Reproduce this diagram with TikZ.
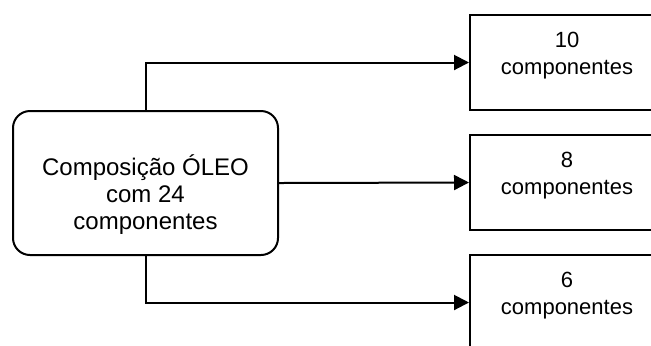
\documentclass[tikz,border=0pt]{standalone}
\usepackage{fontspec}
\setmainfont{Liberation Sans}
\usetikzlibrary{arrows.meta}
\begin{document}
\begin{tikzpicture}[x=0.5pt,y=-0.5pt,line width=1pt,
  oleo/.style={draw,rounded corners=8.5pt,minimum width=132.5pt,minimum height=72pt,align=center,font=\fontsize{12}{13.5}\selectfont},
  parte/.style={draw,minimum width=97pt,minimum height=47.5pt,align=center,font=\fontsize{11}{13.5}\selectfont},
  seta/.style={-{Triangle[length=7.5pt,width=7.5pt]}}]
\useasboundingbox (0,0) rectangle (651,345);
\clip (0,0) rectangle (651,345);
\node[oleo] (oleo) at (145.5,183) {\mbox{}\\[8.7pt]Composição ÓLEO\\com 24\\componentes};
\node[parte] (p10) at (567,62.5) {10\\componentes\\[-4.5pt]\mbox{}};
\node[parte] (p8) at (567,182.5) {8\\componentes\\[-4.5pt]\mbox{}};
\node[parte] (p6) at (567,302.5) {6\\componentes\\[-4.5pt]\mbox{}};
\draw[seta] (oleo.north) |- (p10.west);
\draw[seta] (oleo.east) -- (p8.west);
\draw[seta] (oleo.south) |- (p6.west);
\end{tikzpicture}
\end{document}
